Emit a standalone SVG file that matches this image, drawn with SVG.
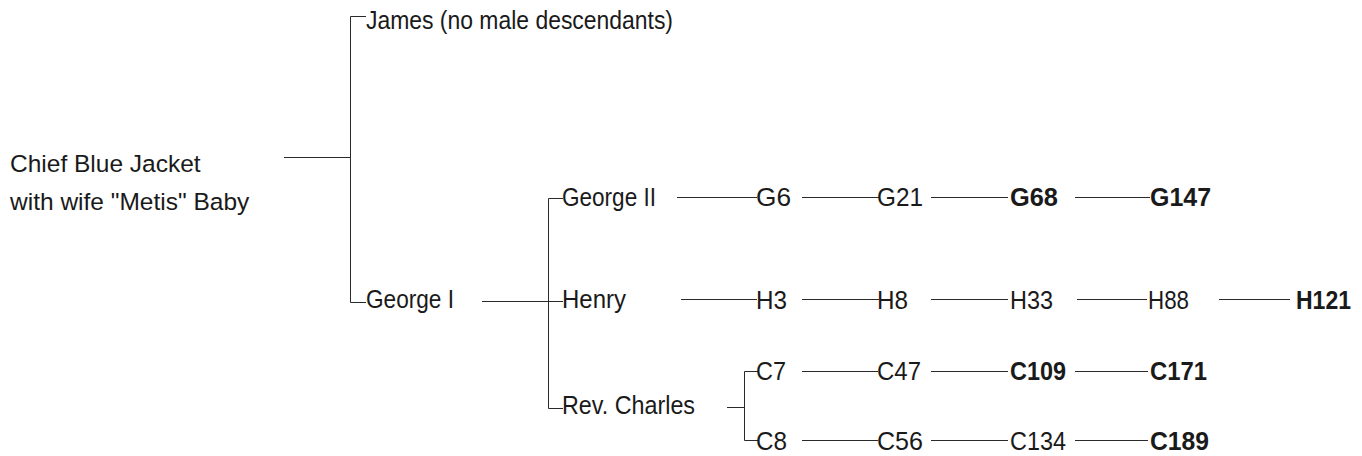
<svg xmlns="http://www.w3.org/2000/svg" width="1362" height="456" viewBox="0 0 1362 456">
<style>
text{font-family:"Liberation Sans",Arial,sans-serif;fill:#1a1a1a;font-size:24.5px}
.t{font-size:26.5px}
.b{font-weight:bold}
.c line,.c path{stroke:#2a2a2a;stroke-width:1;fill:none}
</style>
<rect width="1362" height="456" fill="#fff"/>
<g class="c" id="connectors">
<path d="M366,16.5H350.5V302.5H366"/>
<line x1="284" y1="157.5" x2="350" y2="157.5"/>
<line x1="482" y1="301.5" x2="563" y2="301.5"/>
<path d="M563,198.5H548.5V408.5H563"/>
<line x1="727" y1="407.5" x2="744" y2="407.5"/>
<path d="M758,371.5H744.5V440.5H758"/>
<line x1="677" y1="197.5" x2="757" y2="197.5"/>
<line x1="802" y1="197.5" x2="879" y2="197.5"/>
<line x1="931" y1="197.5" x2="1008" y2="197.5"/>
<line x1="1075" y1="197.5" x2="1150" y2="197.5"/>
<line x1="681" y1="299.5" x2="757" y2="299.5"/>
<line x1="802" y1="299.5" x2="879" y2="299.5"/>
<line x1="931" y1="299.5" x2="1008" y2="299.5"/>
<line x1="1077" y1="299.5" x2="1147" y2="299.5"/>
<line x1="1219" y1="299.5" x2="1290" y2="299.5"/>
<line x1="802" y1="371.5" x2="878" y2="371.5"/>
<line x1="931" y1="371.5" x2="1008" y2="371.5"/>
<line x1="1075" y1="371.5" x2="1148" y2="371.5"/>
<line x1="802" y1="440.5" x2="878" y2="440.5"/>
<line x1="931" y1="440.5" x2="1008" y2="440.5"/>
<line x1="1075" y1="440.5" x2="1148" y2="440.5"/>
</g>
<g id="n-chief"><text x="10" y="172">Chief Blue Jacket</text><text x="10" y="210">with wife "Metis" Baby</text></g>
<g id="n-james"><text class="t" x="366" y="29" textLength="307" lengthAdjust="spacingAndGlyphs">James (no male descendants)</text></g>
<g id="n-george1"><text class="t" x="366" y="308" textLength="88" lengthAdjust="spacingAndGlyphs">George I</text></g>
<g id="n-george2"><text class="t" x="562" y="206" textLength="94" lengthAdjust="spacingAndGlyphs">George II</text></g>
<g id="n-henry"><text class="t" x="562" y="308" textLength="64" lengthAdjust="spacingAndGlyphs">Henry</text></g>
<g id="n-charles"><text class="t" x="562" y="414" textLength="133" lengthAdjust="spacingAndGlyphs">Rev. Charles</text></g>
<g id="n-G6"><text class="t" x="756" y="206" textLength="35" lengthAdjust="spacingAndGlyphs">G6</text></g>
<g id="n-G21"><text class="t" x="877" y="206" textLength="46" lengthAdjust="spacingAndGlyphs">G21</text></g>
<g id="n-G68"><text class="t b" x="1010" y="206" textLength="48" lengthAdjust="spacingAndGlyphs">G68</text></g>
<g id="n-G147"><text class="t b" x="1150" y="206" textLength="61" lengthAdjust="spacingAndGlyphs">G147</text></g>
<g id="n-H3"><text class="t" x="756" y="309" textLength="31" lengthAdjust="spacingAndGlyphs">H3</text></g>
<g id="n-H8"><text class="t" x="877" y="309" textLength="31" lengthAdjust="spacingAndGlyphs">H8</text></g>
<g id="n-H33"><text class="t" x="1010" y="309" textLength="43" lengthAdjust="spacingAndGlyphs">H33</text></g>
<g id="n-H88"><text class="t" x="1148" y="309" textLength="41" lengthAdjust="spacingAndGlyphs">H88</text></g>
<g id="n-H121"><text class="t b" x="1296" y="309" textLength="55" lengthAdjust="spacingAndGlyphs">H121</text></g>
<g id="n-C7"><text class="t" x="756" y="380" textLength="30" lengthAdjust="spacingAndGlyphs">C7</text></g>
<g id="n-C47"><text class="t" x="877" y="380" textLength="44" lengthAdjust="spacingAndGlyphs">C47</text></g>
<g id="n-C109"><text class="t b" x="1010" y="380" textLength="56" lengthAdjust="spacingAndGlyphs">C109</text></g>
<g id="n-C171"><text class="t b" x="1150" y="380" textLength="57" lengthAdjust="spacingAndGlyphs">C171</text></g>
<g id="n-C8"><text class="t" x="756" y="450" textLength="31" lengthAdjust="spacingAndGlyphs">C8</text></g>
<g id="n-C56"><text class="t" x="877" y="450" textLength="46" lengthAdjust="spacingAndGlyphs">C56</text></g>
<g id="n-C134"><text class="t" x="1010" y="450" textLength="56" lengthAdjust="spacingAndGlyphs">C134</text></g>
<g id="n-C189"><text class="t b" x="1150" y="450" textLength="59" lengthAdjust="spacingAndGlyphs">C189</text></g>
</svg>
